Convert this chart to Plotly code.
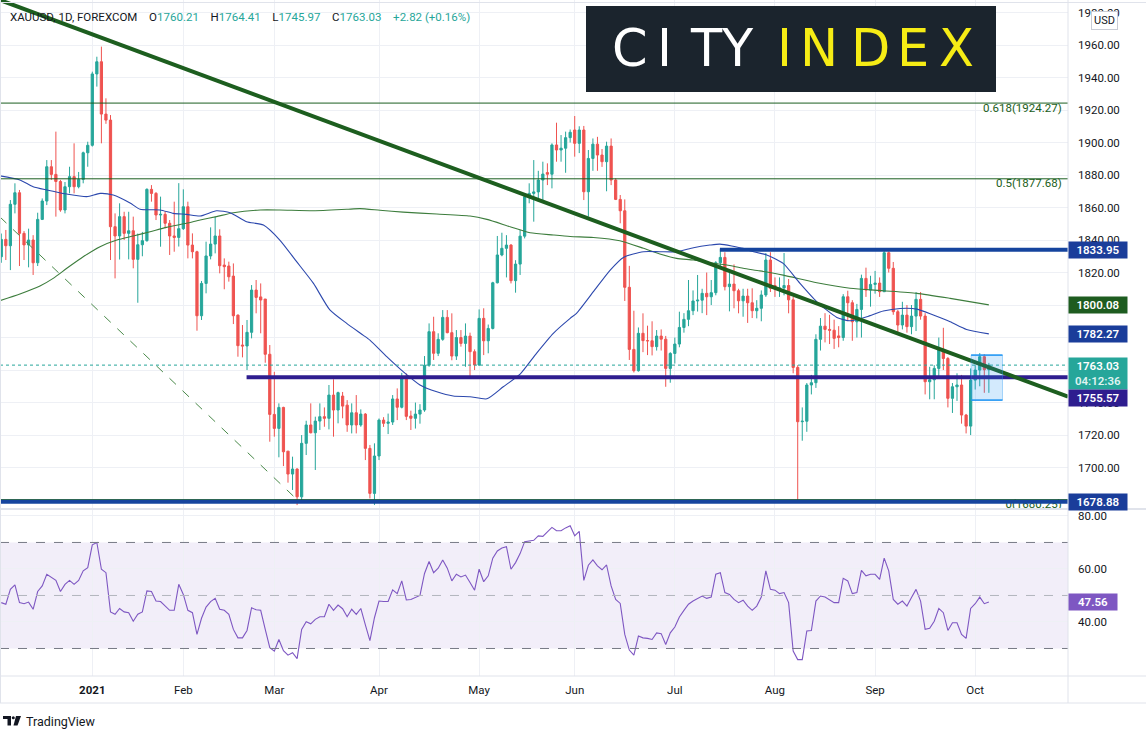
import pandas as pd
import plotly.graph_objects as go
from plotly.subplots import make_subplots

# ---------------- data (XAUUSD daily, FOREXCOM) ----------------
opens = [
    1829.7, 1840.4, 1836.5, 1862.0, 1869.1, 1844.1, 1837.0, 1840.0, 1826.0, 1852.7,
    1864.0, 1885.1, 1880.4, 1876.0, 1858.5, 1872.8, 1879.0, 1872.8, 1877.3, 1893.7,
    1898.3, 1942.2, 1949.7, 1917.5, 1913.8, 1848.2, 1842.5, 1854.4, 1844.1, 1845.7,
    1828.1, 1837.1, 1839.6, 1871.2, 1868.7, 1855.4, 1855.8, 1850.3, 1842.5, 1841.6,
    1847.0, 1860.5, 1836.9, 1832.8, 1793.4, 1813.3, 1830.2, 1837.5, 1842.5, 1824.6,
    1824.0, 1817.8, 1793.8, 1775.4, 1774.8, 1783.2, 1809.2, 1805.0, 1803.7, 1769.7,
    1732.7, 1724.1, 1737.0, 1710.1, 1696.0, 1699.1, 1682.0, 1714.9, 1726.2, 1721.4,
    1728.6, 1731.3, 1730.3, 1744.6, 1735.4, 1744.0, 1738.4, 1726.2, 1733.7, 1726.2,
    1732.9, 1711.8, 1684.1, 1707.1, 1729.2, 1727.2, 1728.0, 1742.2, 1737.1, 1754.9,
    1731.7, 1730.3, 1732.9, 1735.4, 1763.0, 1783.6, 1770.3, 1778.9, 1792.4, 1783.0,
    1768.6, 1780.0, 1776.4, 1780.9, 1771.3, 1763.1, 1791.8, 1778.0, 1785.6, 1813.7,
    1830.8, 1834.9, 1836.9, 1815.0, 1825.2, 1842.4, 1866.7, 1868.7, 1869.6, 1876.9,
    1881.5, 1880.5, 1898.5, 1895.4, 1896.5, 1903.0, 1907.7, 1899.5, 1907.7, 1869.7,
    1890.2, 1899.0, 1892.3, 1888.2, 1897.8, 1876.9, 1865.0, 1858.0, 1810.9, 1772.7,
    1759.6, 1782.6, 1778.1, 1778.0, 1774.4, 1780.9, 1779.0, 1761.0, 1770.2, 1776.0,
    1786.2, 1791.2, 1796.5, 1802.5, 1803.0, 1807.2, 1805.1, 1807.6, 1826.0, 1829.3,
    1811.3, 1812.9, 1808.8, 1802.6, 1805.5, 1801.4, 1796.5, 1798.0, 1806.2, 1827.7,
    1812.0, 1810.0, 1810.5, 1812.0, 1803.2, 1761.6, 1728.2, 1728.5, 1750.8, 1752.2,
    1778.9, 1787.0, 1785.0, 1784.5, 1781.0, 1780.0, 1805.1, 1801.4, 1789.7, 1797.3,
    1816.4, 1809.2, 1812.7, 1813.5, 1808.2, 1832.2, 1822.6, 1795.9, 1787.7, 1793.8,
    1786.7, 1793.2, 1803.5, 1793.2, 1752.8, 1754.0, 1761.0, 1772.7, 1767.1, 1742.6,
    1749.7, 1750.8, 1732.3, 1725.5, 1753.8, 1760.0, 1768.2, 1760.21,
]
highs = [
    1844.0, 1846.2, 1864.6, 1874.9, 1870.8, 1845.5, 1847.0, 1843.0, 1856.8, 1865.6,
    1889.2, 1889.2, 1906.7, 1877.0, 1875.7, 1885.1, 1899.5, 1881.9, 1894.4, 1900.5,
    1943.6, 1952.8, 1959.0, 1927.2, 1916.9, 1856.4, 1862.6, 1857.4, 1857.4, 1854.4,
    1844.0, 1845.0, 1871.8, 1873.8, 1869.5, 1866.7, 1857.8, 1852.3, 1863.6, 1875.0,
    1871.2, 1863.6, 1844.1, 1833.4, 1814.8, 1839.0, 1847.8, 1854.4, 1846.6, 1828.7,
    1826.7, 1825.6, 1794.2, 1787.7, 1790.8, 1812.3, 1815.4, 1813.3, 1803.7, 1775.4,
    1758.9, 1739.5, 1737.4, 1710.1, 1706.7, 1699.5, 1720.0, 1728.8, 1739.5, 1731.3,
    1739.5, 1737.0, 1750.8, 1754.3, 1746.7, 1746.5, 1741.5, 1739.5, 1744.6, 1735.8,
    1733.5, 1713.9, 1714.9, 1730.2, 1731.0, 1733.2, 1744.6, 1748.7, 1758.3, 1757.9,
    1735.0, 1740.0, 1739.0, 1768.6, 1788.7, 1792.8, 1782.6, 1796.9, 1796.9, 1794.9,
    1784.6, 1784.6, 1788.7, 1783.0, 1772.7, 1797.3, 1798.0, 1788.0, 1814.3, 1842.5,
    1844.5, 1843.0, 1837.5, 1827.6, 1846.2, 1867.7, 1874.9, 1889.2, 1882.6, 1888.2,
    1887.2, 1899.5, 1912.2, 1904.6, 1906.7, 1908.0, 1916.3, 1910.0, 1910.2, 1895.4,
    1902.5, 1903.5, 1896.0, 1900.5, 1902.5, 1878.0, 1867.7, 1865.0, 1824.1, 1796.5,
    1786.2, 1794.9, 1787.3, 1790.0, 1784.6, 1785.0, 1781.0, 1771.0, 1780.0, 1795.9,
    1795.0, 1815.4, 1809.0, 1818.5, 1810.0, 1820.0, 1815.4, 1827.0, 1834.4, 1832.5,
    1821.0, 1825.0, 1810.0, 1810.0, 1810.0, 1810.3, 1803.0, 1809.0, 1832.0, 1832.5,
    1817.0, 1817.0, 1832.0, 1816.0, 1805.0, 1763.0, 1737.0, 1752.0, 1757.0, 1782.0,
    1792.0, 1795.0, 1794.0, 1791.0, 1787.0, 1806.7, 1808.8, 1803.0, 1800.7, 1818.7,
    1823.0, 1818.0, 1821.0, 1817.0, 1834.4, 1833.0, 1826.5, 1797.0, 1802.0, 1800.0,
    1800.0, 1808.0, 1808.0, 1795.0, 1762.0, 1763.0, 1780.0, 1786.0, 1768.0, 1752.0,
    1758.0, 1757.0, 1733.0, 1761.0, 1763.0, 1770.4, 1769.8, 1764.41,
]
lows = [
    1826.0, 1827.7, 1821.5, 1856.4, 1824.0, 1827.7, 1823.2, 1818.5, 1824.0, 1852.3,
    1861.5, 1877.0, 1854.4, 1857.4, 1856.4, 1868.7, 1868.7, 1871.8, 1874.9, 1885.1,
    1897.5, 1934.4, 1899.5, 1911.5, 1827.7, 1816.4, 1828.0, 1840.0, 1828.1, 1822.6,
    1801.4, 1830.0, 1839.0, 1863.6, 1852.3, 1835.9, 1847.2, 1830.8, 1832.8, 1836.0,
    1846.2, 1828.7, 1828.7, 1784.2, 1790.8, 1807.2, 1828.1, 1831.8, 1819.5, 1809.7,
    1814.4, 1788.3, 1768.2, 1767.8, 1760.0, 1779.5, 1794.9, 1782.6, 1764.5, 1715.9,
    1719.0, 1706.3, 1700.9, 1690.7, 1686.2, 1676.9, 1679.0, 1707.7, 1721.0, 1698.5,
    1723.1, 1725.1, 1723.5, 1719.0, 1727.2, 1730.3, 1722.0, 1721.0, 1721.0, 1725.1,
    1704.6, 1681.0, 1677.0, 1704.6, 1725.0, 1720.6, 1726.2, 1729.2, 1736.4, 1729.2,
    1723.1, 1724.0, 1727.0, 1734.3, 1762.0, 1766.2, 1768.6, 1778.0, 1782.6, 1766.0,
    1766.2, 1774.4, 1762.0, 1755.9, 1760.0, 1762.5, 1769.2, 1770.3, 1785.0, 1813.3,
    1830.0, 1817.0, 1813.3, 1807.6, 1818.5, 1841.0, 1862.6, 1851.3, 1863.6, 1864.6,
    1873.8, 1871.8, 1888.2, 1888.2, 1881.4, 1900.0, 1891.3, 1893.5, 1864.6, 1854.4,
    1882.6, 1882.6, 1885.0, 1870.0, 1873.8, 1864.6, 1850.3, 1802.5, 1766.2, 1758.5,
    1759.0, 1771.0, 1769.2, 1769.0, 1772.0, 1772.0, 1749.7, 1752.2, 1764.0, 1774.0,
    1783.0, 1787.0, 1793.8, 1796.0, 1795.0, 1793.8, 1800.0, 1806.0, 1822.6, 1809.0,
    1796.1, 1798.0, 1794.9, 1792.8, 1789.0, 1792.0, 1791.8, 1790.0, 1805.0, 1808.0,
    1805.0, 1805.0, 1806.0, 1794.9, 1758.0, 1679.0, 1716.5, 1722.0, 1745.0, 1749.0,
    1772.0, 1777.0, 1776.0, 1773.0, 1774.0, 1778.0, 1790.8, 1778.0, 1780.0, 1780.0,
    1805.0, 1799.0, 1807.0, 1805.0, 1808.0, 1820.0, 1794.0, 1783.0, 1785.0, 1783.0,
    1782.0, 1784.0, 1791.0, 1745.0, 1742.0, 1742.0, 1756.0, 1760.0, 1737.0, 1733.6,
    1741.0, 1727.0, 1721.0, 1720.0, 1748.0, 1750.0, 1746.0, 1745.97,
]
closes = [
    1840.4, 1836.5, 1862.0, 1869.1, 1844.1, 1837.0, 1840.0, 1826.0, 1852.7, 1864.0,
    1885.1, 1880.4, 1876.0, 1858.5, 1872.8, 1879.0, 1872.8, 1877.3, 1893.7, 1898.3,
    1942.2, 1949.7, 1917.5, 1913.8, 1848.2, 1842.5, 1854.4, 1844.1, 1845.7, 1828.1,
    1837.1, 1839.6, 1871.2, 1868.7, 1855.4, 1855.8, 1850.3, 1842.5, 1841.6, 1847.0,
    1860.5, 1836.9, 1832.8, 1793.4, 1813.3, 1830.2, 1837.5, 1842.5, 1824.2, 1823.6,
    1817.4, 1793.4, 1775.0, 1774.8, 1783.2, 1809.2, 1804.7, 1803.1, 1769.7, 1732.7,
    1724.1, 1737.0, 1709.7, 1696.0, 1699.1, 1682.0, 1714.9, 1726.2, 1721.4, 1728.6,
    1731.3, 1730.3, 1744.6, 1735.4, 1746.1, 1737.8, 1726.2, 1733.7, 1726.2, 1732.9,
    1711.8, 1684.1, 1707.1, 1729.2, 1727.2, 1728.0, 1742.2, 1737.1, 1754.9, 1731.5,
    1730.3, 1732.9, 1735.4, 1763.0, 1783.6, 1770.3, 1778.9, 1792.4, 1783.0, 1768.6,
    1780.0, 1776.4, 1780.9, 1771.3, 1763.1, 1791.8, 1778.0, 1785.6, 1813.7, 1830.8,
    1834.9, 1836.9, 1815.0, 1825.2, 1842.4, 1866.7, 1868.7, 1869.6, 1876.9, 1880.6,
    1880.5, 1898.5, 1895.4, 1896.5, 1903.0, 1906.3, 1899.5, 1907.7, 1869.7, 1890.2,
    1899.0, 1892.3, 1888.2, 1897.8, 1876.9, 1865.0, 1858.0, 1810.9, 1772.7, 1759.6,
    1782.6, 1778.1, 1778.0, 1774.4, 1780.9, 1779.0, 1761.0, 1770.2, 1776.0, 1786.2,
    1791.2, 1796.5, 1802.5, 1803.0, 1807.2, 1805.1, 1807.6, 1826.0, 1829.3, 1811.3,
    1812.9, 1808.8, 1802.6, 1805.5, 1801.4, 1796.5, 1798.0, 1806.2, 1827.7, 1810.3,
    1810.0, 1810.5, 1812.0, 1803.2, 1761.6, 1728.2, 1728.5, 1750.8, 1752.2, 1778.9,
    1787.0, 1785.0, 1784.5, 1779.5, 1780.0, 1805.1, 1801.4, 1789.7, 1797.3, 1816.4,
    1809.2, 1812.7, 1813.5, 1808.2, 1832.2, 1822.6, 1795.9, 1787.7, 1793.8, 1786.7,
    1793.2, 1803.5, 1793.2, 1752.8, 1754.0, 1761.0, 1772.7, 1767.1, 1742.6, 1749.7,
    1750.8, 1732.3, 1725.5, 1753.8, 1760.0, 1768.2, 1760.21, 1763.03,
]

# RSI(14) per bar
rsi = [
    47.3, 46.7, 52.3, 54.0, 47.3, 46.9, 47.5, 44.8, 51.5, 53.6,
    58.0, 57.0, 55.7, 51.5, 54.2, 55.7, 54.2, 55.7, 59.3, 60.5,
    69.1, 70.0, 59.9, 58.6, 43.8, 42.9, 45.1, 43.8, 43.5, 40.3,
    42.9, 43.8, 51.7, 51.5, 47.9, 47.7, 46.0, 44.4, 44.4, 54.2,
    50.4, 44.4, 43.5, 35.3, 41.4, 45.6, 47.7, 48.9, 44.8, 44.4,
    42.9, 37.2, 34.0, 34.0, 36.8, 45.4, 44.6, 44.4, 37.2, 30.3,
    29.0, 33.4, 29.2, 27.5, 28.4, 26.2, 37.2, 40.1, 39.3, 41.0,
    42.0, 42.0, 46.7, 44.4, 46.4, 45.0, 42.0, 44.8, 42.9, 45.1,
    38.9, 33.0, 41.6, 47.9, 47.7, 47.7, 52.1, 50.7, 55.5, 48.3,
    48.5, 49.2, 50.0, 58.3, 62.8, 58.6, 60.3, 63.4, 60.3, 55.5,
    58.0, 57.0, 57.7, 54.9, 52.0, 59.9, 55.2, 57.4, 64.1, 66.8,
    67.9, 68.4, 59.9, 62.4, 65.8, 70.3, 70.6, 70.8, 72.5, 72.3,
    74.0, 75.7, 74.4, 74.4, 75.5, 76.3, 72.5, 74.2, 55.7, 61.4,
    63.4, 61.2, 59.7, 61.5, 53.6, 48.5, 47.0, 35.3, 29.4, 27.5,
    34.7, 34.0, 33.8, 33.4, 35.9, 35.6, 31.5, 35.9, 38.1, 41.9,
    44.4, 46.7, 47.9, 48.8, 49.8, 48.9, 49.4, 58.0, 58.6, 51.1,
    50.4, 48.5, 47.3, 48.2, 46.0, 44.4, 46.0, 49.4, 59.3, 52.3,
    52.0, 50.7, 51.1, 47.3, 29.0, 25.8, 25.8, 36.6, 36.8, 47.9,
    49.8, 49.4, 48.5, 47.3, 47.3, 56.5, 55.5, 50.7, 51.1, 59.5,
    57.4, 58.0, 58.0, 56.1, 64.1, 59.3, 48.5, 46.7, 47.9, 46.0,
    49.2, 52.3, 47.9, 37.2, 37.6, 40.3, 45.1, 43.5, 36.8, 39.7,
    39.7, 35.3, 33.8, 45.1, 46.9, 49.4, 46.9, 47.56,
]

# moving averages, sampled along the curve (bar position, value)
ma50_bar = [-0.3, 4.1, 7.0, 10.0, 14.4, 18.8, 21.7, 24.6, 28.3, 30.5,
            34.9, 37.8, 40.7, 43.7, 47.3, 50.3, 53.9, 57.6, 61.2, 64.9,
            68.6, 72.2, 75.9, 79.5, 81.0, 84.7, 88.3, 92.0, 95.7, 99.3,
            103.0, 106.7, 110.3, 114.0, 117.6, 121.3, 125.0, 126.4, 130.1, 133.8,
            136.7, 141.1, 144.7, 148.4, 152.1, 155.7, 157.9, 163.0, 164.5, 168.2,
            171.8, 175.5, 179.2, 183.6, 186.5, 190.2, 193.8, 197.5, 201.2, 204.8,
            208.5, 212.1, 217.0]
ma50_val = [1879.5, 1877.0, 1872.8, 1870.8, 1868.3, 1866.7, 1868.7, 1867.7, 1862.8, 1858.9,
            1858.5, 1856.4, 1855.8, 1854.8, 1858.0, 1856.8, 1851.3, 1849.2, 1840.0, 1826.7,
            1813.3, 1797.0, 1788.7, 1781.5, 1778.4, 1768.2, 1759.0, 1750.8, 1746.6, 1744.0,
            1743.6, 1742.3, 1749.7, 1757.5, 1770.3, 1782.6, 1791.8, 1794.9, 1808.2, 1821.5,
            1829.3, 1832.8, 1832.8, 1832.8, 1835.3, 1836.9, 1837.5, 1834.9, 1833.4, 1830.8,
            1825.6, 1813.3, 1802.0, 1792.4, 1790.3, 1792.8, 1796.3, 1797.9, 1797.5, 1793.8,
            1789.7, 1785.0, 1782.27]
ma200_bar = [-0.3, 4.1, 8.5, 11.4, 14.4, 18.0, 21.7, 25.4, 29.0, 32.7,
             36.3, 40.7, 43.7, 47.3, 51.0, 56.9, 61.2, 68.6, 75.9, 78.8,
             83.2, 88.3, 95.7, 103.0, 106.7, 111.8, 116.2, 121.3, 125.0, 130.1,
             135.9, 141.1, 144.7, 148.4, 152.1, 155.7, 159.4, 163.0, 166.7, 171.8,
             179.2, 186.5, 193.8, 201.2, 208.5, 217.0]
ma200_val = [1802.7, 1806.8, 1811.7, 1816.4, 1822.6, 1829.7, 1835.9, 1840.0, 1842.5, 1845.1,
             1847.8, 1850.3, 1852.3, 1854.4, 1856.8, 1858.5, 1858.5, 1858.0, 1858.9, 1859.3,
             1858.3, 1857.2, 1856.0, 1854.8, 1852.7, 1848.2, 1844.5, 1843.1, 1842.2, 1841.6,
             1839.6, 1834.9, 1831.4, 1828.7, 1827.7, 1826.0, 1824.6, 1822.6, 1821.0, 1818.4,
             1813.7, 1810.3, 1808.8, 1807.2, 1804.1, 1800.08]

# drawings
fib_prices = [1924.27, 1877.68, 1680.25]
fib_names = ["0.618(1924.27)", "0.5(1877.68)", "0(1680.25)"]
trend_bars, trend_prices = [-0.3, 234.4], [1987.7, 1743.6]
fib_trend_bars, fib_trend_prices = [-0.3, 65.0], [1854.2, 1680.25]
level_prices = [1833.95, 1755.57, 1678.88]
level_start_bars = [157.9, 53.9, -0.3]
box_bars, box_prices = [213.1, 220.0], [1741.5, 1769.2]
last_price, last_rsi = 1763.03, 47.56
header_ohlc = ["1760.21", "1764.41", "1745.97", "1763.03"]
header_change = "+2.82 (+0.16%)"
month_labels = ["<b>2021</b>", "Feb", "Mar", "Apr", "May", "Jun", "Jul", "Aug", "Sep", "Oct"]
price_ticks = list(range(1680, 2000, 20))
hidden_ticks = [1680, 1760, 1780]  # fully covered by the price tags

dates = [d for d in pd.bdate_range("2020-12-03", "2021-10-06")
         if d.strftime("%m-%d") not in ("12-25", "01-01")]
bars = list(range(len(dates)))
month_bars = [i for i in range(1, len(dates)) if dates[i].month != dates[i - 1].month]

# ---------------- styling ----------------
UP, DOWN = "#26a69a", "#ef5350"
GRID = "#eef0f5"
BORDER = "#e0e3eb"
TEXT = "#131722"
FIB = "#1b5e20"
NAVY = "#15449e"
INDIGO = "#2e1d8f"
FONT = "Roboto"

W, H = 1146, 738
PLOT_W, PLOT_H = 1068, 676


def px(x):
    return x / PLOT_W


def py(y):
    return (PLOT_H - y) / PLOT_H


fig = make_subplots(rows=2, cols=1, shared_xaxes=True, vertical_spacing=0.0)

fig.add_trace(go.Candlestick(
    x=bars, open=opens, high=highs, low=lows, close=closes,
    increasing=dict(line=dict(color=UP, width=1), fillcolor=UP),
    decreasing=dict(line=dict(color=DOWN, width=1), fillcolor=DOWN),
    whiskerwidth=0, hoverinfo="skip", showlegend=False,
), row=1, col=1)

fig.add_trace(go.Scatter(
    x=ma200_bar, y=ma200_val, mode="lines", hoverinfo="skip",
    line=dict(color="#3d7d3d", width=1.1, shape="spline", smoothing=0.6),
), row=1, col=1)
fig.add_trace(go.Scatter(
    x=ma50_bar, y=ma50_val, mode="lines", hoverinfo="skip",
    line=dict(color="#2c48ad", width=1.1, shape="spline", smoothing=0.6),
), row=1, col=1)

# fib level captions (clipped by the pane, like the chart)
fig.add_trace(go.Scatter(
    x=[233.0] * len(fib_prices), y=fib_prices, mode="text", text=fib_names,
    textposition="bottom left", cliponaxis=True, hoverinfo="skip",
    textfont=dict(family=FONT, size=11.5, color=FIB),
), row=1, col=1)

fig.add_trace(go.Scatter(
    x=bars, y=rsi, mode="lines", hoverinfo="skip",
    line=dict(color="#7e57c2", width=1.1),
), row=2, col=1)

shapes = []
# fib retracement lines and its dashed anchor line
for p in fib_prices:
    shapes.append(dict(type="line", xref="paper", yref="y", x0=0, x1=1, y0=p, y1=p,
                       line=dict(color=FIB, width=1)))
shapes.append(dict(type="line", xref="x", yref="y",
                   x0=fib_trend_bars[0], y0=fib_trend_prices[0],
                   x1=fib_trend_bars[1], y1=fib_trend_prices[1],
                   line=dict(color="#4a8a4a", width=1, dash="dash")))
# current price line
shapes.append(dict(type="line", xref="paper", yref="y", x0=0, x1=1,
                   y0=last_price, y1=last_price,
                   line=dict(color=UP, width=1, dash="dot")))
# horizontal levels
level_colors = [NAVY, INDIGO, NAVY]
for p, b, c in zip(level_prices, level_start_bars, level_colors):
    shapes.append(dict(type="line", xref="x", yref="y", x0=b, x1=234.4, y0=p, y1=p,
                       line=dict(color=c, width=4)))
# down trend line
shapes.append(dict(type="line", xref="x", yref="y",
                   x0=trend_bars[0], y0=trend_prices[0],
                   x1=trend_bars[1], y1=trend_prices[1],
                   line=dict(color="#1d5e1f", width=4)))
# consolidation box
shapes.append(dict(type="rect", xref="x", yref="y",
                   x0=box_bars[0], x1=box_bars[1], y0=box_prices[0], y1=box_prices[1],
                   fillcolor="rgba(33,150,243,0.2)", line=dict(color="rgba(33,150,243,0.35)", width=1)))
for p in box_prices:
    shapes.append(dict(type="line", xref="x", yref="y", x0=box_bars[0], x1=box_bars[1],
                       y0=p, y1=p, line=dict(color="#2196f3", width=1.5)))

# RSI band and levels
shapes.append(dict(type="rect", xref="paper", yref="y2", x0=0, x1=1, y0=30, y1=70,
                   fillcolor="rgba(126,87,194,0.1)", line=dict(width=0), layer="below"))
for lvl, col in [(70, "#787b86"), (30, "#787b86"), (50, "#b2b5be")]:
    shapes.append(dict(type="line", xref="paper", yref="y2", x0=0, x1=1, y0=lvl, y1=lvl,
                       line=dict(color=col, width=1, dash="dash")))

# frame: pane separator, price scale border, time scale borders
shapes += [
    dict(type="line", xref="paper", yref="paper", x0=0, x1=W / PLOT_W, y0=py(509), y1=py(509),
         line=dict(color=BORDER, width=2)),
    dict(type="line", xref="paper", yref="paper", x0=1, x1=1, y0=py(0), y1=py(703),
         line=dict(color=BORDER, width=1)),
    dict(type="line", xref="paper", yref="paper", x0=0, x1=W / PLOT_W, y0=py(676), y1=py(676),
         line=dict(color=BORDER, width=1)),
    dict(type="line", xref="paper", yref="paper", x0=0, x1=W / PLOT_W, y0=py(703), y1=py(703),
         line=dict(color=BORDER, width=1)),
    dict(type="line", xref="paper", yref="paper", x0=px(0.5), x1=px(0.5), y0=py(0), y1=py(703),
         line=dict(color=BORDER, width=1)),
    dict(type="line", xref="paper", yref="paper", x0=0, x1=W / PLOT_W, y0=py(2.5), y1=py(2.5),
         line=dict(color=BORDER, width=1)),
]

# CITY INDEX logo block
shapes.append(dict(type="rect", xref="paper", yref="paper", x0=px(586), x1=px(996),
                   y0=py(92), y1=py(6), fillcolor="#1b242d", line=dict(width=0), layer="above"))

# TradingView mark
shapes += [
    dict(type="rect", xref="paper", yref="paper", x0=px(3), x1=px(11), y0=py(719), y1=py(716),
         fillcolor=TEXT, line=dict(width=0)),
    dict(type="rect", xref="paper", yref="paper", x0=px(7.5), x1=px(11), y0=py(725.5), y1=py(716),
         fillcolor=TEXT, line=dict(width=0)),
    dict(type="circle", xref="paper", yref="paper", x0=px(11.8), x1=px(14.8), y0=py(719.2), y1=py(716.2),
         fillcolor=TEXT, line=dict(width=0)),
    dict(type="path", xref="paper", yref="paper",
         path=f"M {px(16)} {py(716)} L {px(21)} {py(716)} L {px(17.5)} {py(725.5)} L {px(13.5)} {py(725.5)} Z",
         fillcolor=TEXT, line=dict(width=0)),
]

annotations = []
# legend header
teal = "<span style='color:#26a69a'>{}</span>"
header = ("XAUUSD, 1D, FOREXCOM\u2002\u2002"
          + "O" + teal.format(header_ohlc[0]) + "\u2002\u2002"
          + "H" + teal.format(header_ohlc[1]) + "\u2002\u2002"
          + "L" + teal.format(header_ohlc[2]) + "\u2002\u2002"
          + "C" + teal.format(header_ohlc[3]) + "\u2002\u2002"
          + teal.format(header_change))
annotations.append(dict(xref="paper", yref="paper", x=px(8), y=py(17), xanchor="left",
                        yanchor="middle", text=header, showarrow=False,
                        font=dict(family=FONT, size=11.5, color=TEXT)))

# logo letters
logo_letters = ["C", "I", "T", "Y", "I", "N", "D", "E", "X"]
logo_x = [629.5, 664, 706, 737.5, 784, 819, 870.5, 913, 956.5]
for k, (ch, lx) in enumerate(zip(logo_letters, logo_x)):
    annotations.append(dict(xref="paper", yref="paper", x=px(lx), y=py(48.5), xanchor="center",
                            yanchor="middle", text=ch, showarrow=False,
                            font=dict(family="DejaVu Sans", size=51,
                                      color="#ffffff" if k < 4 else "#f6ec15")))


def price_tag(y, text, bg, yref="y", yshift=0, width=56, height=14):
    return dict(xref="paper", yref=yref, x=1, y=y, xanchor="left", yanchor="middle",
                text=text, showarrow=False, bgcolor=bg, width=width, height=height,
                borderpad=1, yshift=yshift, align="center",
                font=dict(family=FONT, size=11.5, color="white", weight=600))


annotations += [
    price_tag(level_prices[0], f"{level_prices[0]:.2f}", "#1a3d9a"),
    price_tag(ma200_val[-1], f"{ma200_val[-1]:.2f}", "#1e5c20"),
    price_tag(ma50_val[-1], f"{ma50_val[-1]:.2f}", "#1a3d9a"),
    price_tag(last_price, f"{last_price:.2f}<br><span style='color:#dff3f1'>04:12:36</span>",
              UP, yshift=-8, height=29),
    price_tag(level_prices[1], f"{level_prices[1]:.2f}", "#2e1d8f", yshift=-21),
    price_tag(level_prices[2], f"{level_prices[2]:.2f}", "#1a3d9a"),
    price_tag(last_rsi, f"{last_rsi:.2f}", "#7e57c2", yref="y2", width=46),
]

# currency badge
annotations.append(dict(xref="paper", yref="paper", x=px(1104.5), y=py(20), xanchor="center",
                        yanchor="middle", text="USD", showarrow=False, bgcolor="white",
                        bordercolor="#c9ccd4", borderwidth=1, borderpad=2,
                        font=dict(family=FONT, size=11, color=TEXT)))
# footer
annotations.append(dict(xref="paper", yref="paper", x=px(24), y=py(721), xanchor="left",
                        yanchor="middle", text="TradingView", showarrow=False,
                        font=dict(family=FONT, size=12.5, color=TEXT)))

fig.update_layout(
    width=W, height=H,
    margin=dict(l=0, r=W - PLOT_W, t=0, b=H - PLOT_H, autoexpand=False),
    paper_bgcolor="white", plot_bgcolor="white",
    showlegend=False,
    font=dict(family=FONT, size=11.5, color=TEXT),
    shapes=shapes, annotations=annotations,
)

fig.update_xaxes(
    range=[-0.28, 234.39], tickvals=month_bars, ticktext=month_labels,
    showgrid=True, gridcolor=GRID, gridwidth=1, zeroline=False, showline=False,
    ticks="", rangeslider_visible=False, fixedrange=True, automargin=False,
    tickfont=dict(family=FONT, size=11.5, color=TEXT),
)
fig.update_xaxes(showticklabels=False, row=1, col=1)
fig.update_xaxes(ticklabelstandoff=5, row=2, col=1)

fig.update_layout(
    yaxis=dict(domain=[0.2485, 1.0], range=[1675.1, 1987.7],
               tickvals=price_ticks,
               ticktext=["" if t in hidden_ticks else f"{t:.2f}" for t in price_ticks],
               side="right", showgrid=True, gridcolor=GRID, automargin=False,
               zeroline=False, ticks="", ticklabelstandoff=9, fixedrange=True,
               tickfont=dict(family=FONT, size=11.5, color=TEXT)),
    yaxis2=dict(domain=[0.0, 0.2456], range=[19.62, 82.26], tickvals=[40, 60, 80],
                tickformat=".2f", side="right", showgrid=True, gridcolor=GRID,
                zeroline=False, ticks="", ticklabelstandoff=9, automargin=False,
                fixedrange=True, tickfont=dict(family=FONT, size=11.5, color=TEXT)),
)

# the page's default 8px body margin would shift the whole figure
fig.write_html("out.html", config={"displayModeBar": False},
               post_script="document.body.style.margin='0px';")
